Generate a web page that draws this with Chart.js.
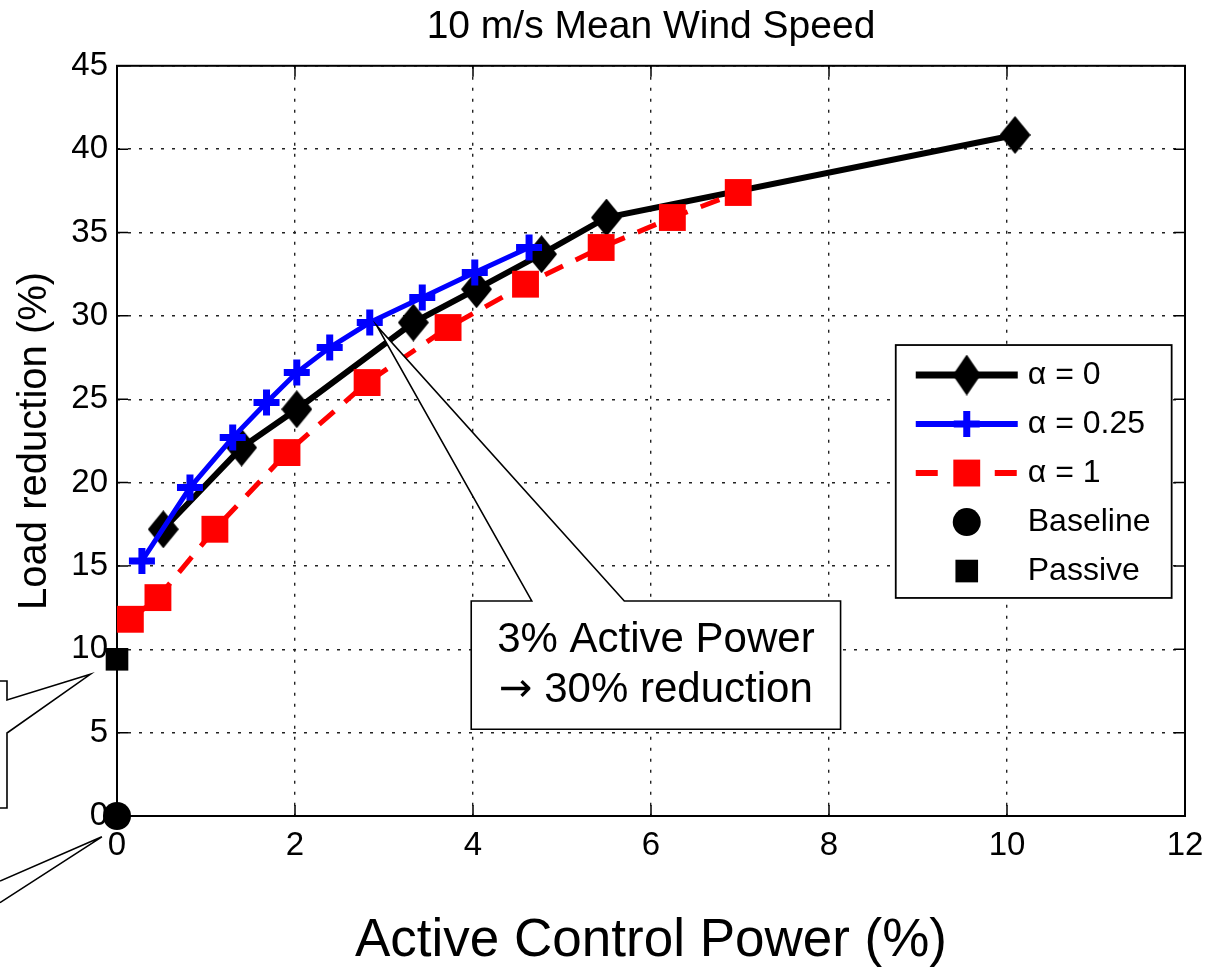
<!DOCTYPE html>
<html>
<head>
<meta charset="utf-8">
<title>10 m/s Mean Wind Speed</title>
<script src="https://cdn.jsdelivr.net/npm/chart.js@4/dist/chart.umd.min.js"></script>
<style>
    html, body { margin: 0; padding: 0; background: #fff; }
    canvas { display: block; }
</style>
</head>
<body>
<canvas id="wind-chart" width="1207" height="972"></canvas>
<script>
const FONT = '"Liberation Sans", Arial, Helvetica, sans-serif';

// Active control power (%) -> load reduction (%)
const alpha0Power = [0.52, 1.40, 2.02, 3.33, 4.04, 4.77, 5.50, 10.09];
const alpha0Reduction = [17.2, 22.1, 24.4, 29.6, 31.6, 33.7, 35.9, 40.85];

const alpha025Power = [0.28, 0.82, 1.30, 1.68, 2.02, 2.39, 2.84, 3.43, 4.02, 4.63];
const alpha025Reduction = [15.3, 19.7, 22.7, 24.8, 26.6, 28.1, 29.6, 31.1, 32.6, 34.1];

const alpha1Power = [0.15, 0.46, 1.10, 1.91, 2.81, 3.72, 4.59, 5.44, 6.24, 6.98];
const alpha1Reduction = [11.8, 13.1, 17.2, 21.8, 26.0, 29.3, 31.9, 34.1, 35.9, 37.4];

const baselinePower = [0];
const baselineReduction = [0];
const passivePower = [0];
const passiveReduction = [9.4];

const seriesLabels = ['α = 0', 'α = 0.25', 'α = 1', 'Baseline', 'Passive'];
const xTickValues = [0, 2, 4, 6, 8, 10, 12];
const yTickValues = [0, 5, 10, 15, 20, 25, 30, 35, 40, 45];
const calloutLines = ['3% Active Power', '→', ' 30% reduction'];

function toPoints(xs, ys) {
    return xs.map((x, i) => ({ x: x, y: ys[i] }));
}

// matlab style diamond is a bit taller than wide
function makeDiamond(w, h) {
    const c = document.createElement('canvas');
    c.width = w;
    c.height = h;
    const g = c.getContext('2d');
    g.fillStyle = '#000';
    g.beginPath();
    g.moveTo(w / 2, 0);
    g.lineTo(w, h / 2);
    g.lineTo(w / 2, h);
    g.lineTo(0, h / 2);
    g.closePath();
    g.fill();
    return c;
}
const plotDiamond = makeDiamond(31, 38);
const legendDiamond = makeDiamond(28, 41);

// box, inward ticks (drawn under the data)
const framePlugin = {
    id: 'frame',
    beforeDatasetsDraw(chart) {
        const { ctx, chartArea: a, scales: { x, y } } = chart;
        ctx.save();
        ctx.strokeStyle = '#000';
        ctx.lineWidth = 1.5;
        ctx.beginPath();
        xTickValues.forEach(v => {
            const p = x.getPixelForValue(v);
            ctx.moveTo(p, a.bottom); ctx.lineTo(p, a.bottom - 11);
            ctx.moveTo(p, a.top); ctx.lineTo(p, a.top + 11);
        });
        yTickValues.forEach(v => {
            const p = y.getPixelForValue(v);
            ctx.moveTo(a.left, p); ctx.lineTo(a.left + 11, p);
            ctx.moveTo(a.right, p); ctx.lineTo(a.right - 11, p);
        });
        ctx.stroke();
        ctx.lineWidth = 2;
        ctx.strokeRect(a.left, a.top, a.right - a.left, a.bottom - a.top);
        ctx.restore();
    }
};

// callouts and the boxed legend (drawn on top)
const overlayPlugin = {
    id: 'overlay',
    afterDraw(chart) {
        const { ctx, scales: { x, y } } = chart;
        const px = v => x.getPixelForValue(v);
        const py = v => y.getPixelForValue(v);
        ctx.save();
        ctx.strokeStyle = '#000';
        ctx.lineWidth = 1.6;

        // main callout
        const bx0 = px(3.98), bx1 = px(8.13), by0 = py(12.9), by1 = py(5.2);
        ctx.beginPath();
        ctx.moveTo(bx0, by0);
        ctx.lineTo(px(4.66), by0);
        ctx.lineTo(px(2.92), py(29.4));
        ctx.lineTo(px(5.70), by0);
        ctx.lineTo(bx1, by0);
        ctx.lineTo(bx1, by1);
        ctx.lineTo(bx0, by1);
        ctx.closePath();
        ctx.fillStyle = '#fff';
        ctx.fill();
        ctx.stroke();
        ctx.fillStyle = '#000';
        ctx.textBaseline = 'alphabetic';
        const cx = (bx0 + bx1) / 2;
        const textFont = '42px ' + FONT;
        const arrowFont = '40px "DejaVu Sans", sans-serif';
        ctx.font = textFont;
        ctx.textAlign = 'center';
        ctx.fillText(calloutLines[0], cx, by0 + 51);
        // second line: arrow glyph + text, centred together
        ctx.textAlign = 'left';
        ctx.font = arrowFont;
        const aw = ctx.measureText(calloutLines[1]).width;
        ctx.font = textFont;
        const tw = ctx.measureText(calloutLines[2]).width;
        const sx = cx - (aw + tw) / 2;
        ctx.font = arrowFont;
        ctx.fillText(calloutLines[1], sx, by0 + 100);
        ctx.font = textFont;
        ctx.fillText(calloutLines[2], sx + aw, by0 + 101);

        // clipped callouts on the left edge
        const ex = px(-1.236);
        ctx.beginPath();
        ctx.moveTo(-5, py(8.1));
        ctx.lineTo(ex, py(8.1));
        ctx.lineTo(ex, py(6.96));
        ctx.lineTo(px(-0.30), py(8.5));
        ctx.lineTo(ex, py(4.98));
        ctx.lineTo(ex, py(0.48));
        ctx.lineTo(-5, py(0.48));
        ctx.stroke();
        ctx.beginPath();
        ctx.moveTo(0, py(-3.9));
        ctx.lineTo(px(-0.17), py(-1.25));
        ctx.lineTo(0, py(-5.2));
        ctx.stroke();

        // legend
        const lx0 = px(8.75), lx1 = px(11.85), ly0 = py(28.25), ly1 = py(13.08);
        ctx.fillStyle = '#fff';
        ctx.fillRect(lx0, ly0, lx1 - lx0, ly1 - ly0);
        ctx.lineWidth = 1.8;
        ctx.strokeRect(lx0, ly0, lx1 - lx0, ly1 - ly0);
        ctx.font = '32px ' + FONT;
        ctx.textBaseline = 'middle';
        chart.data.datasets.forEach((ds, i) => {
            const ry = ly0 + 30 + i * 49;
            const mx = lx0 + 71;
            if (ds.showLine) {
                ctx.save();
                ctx.strokeStyle = ds.borderColor;
                ctx.lineWidth = ds.borderWidth + 1;
                ctx.setLineDash(ds.borderDash ? [22, 57] : []);
                ctx.beginPath();
                ctx.moveTo(lx0 + 20, ry);
                ctx.lineTo(lx0 + 122, ry);
                ctx.stroke();
                ctx.restore();
            }
            ctx.save();
            ctx.fillStyle = ds.pointBackgroundColor;
            ctx.strokeStyle = ds.pointBorderColor;
            ctx.lineWidth = ds.pointBorderWidth;
            Chart.helpers.drawPoint(ctx, {
                pointStyle: ds.legendStyle || ds.pointStyle,
                radius: ds.pointRadius,
                borderWidth: ds.pointBorderWidth,
                rotation: 0
            }, mx, ry);
            ctx.restore();
            ctx.fillStyle = '#000';
            ctx.fillText(ds.label, lx0 + 132, ry);
        });
        ctx.restore();
    }
};

function renderChart() {
    const ctx = document.getElementById('wind-chart').getContext('2d');
    new Chart(ctx, {
        type: 'scatter',
        data: {
            datasets: [{
                label: seriesLabels[0],
                data: toPoints(alpha0Power, alpha0Reduction),
                showLine: true,
                borderColor: '#000',
                borderWidth: 6,
                pointStyle: plotDiamond,
                legendStyle: legendDiamond,
                pointRadius: 16,
                pointBackgroundColor: '#000',
                pointBorderColor: '#000',
                pointBorderWidth: 1,
                order: 3,
                clip: false
            }, {
                label: seriesLabels[1],
                data: toPoints(alpha025Power, alpha025Reduction),
                showLine: true,
                borderColor: '#0000ff',
                borderWidth: 5,
                pointStyle: 'cross',
                pointRadius: 13,
                pointBackgroundColor: '#0000ff',
                pointBorderColor: '#0000ff',
                pointBorderWidth: 7,
                order: 2,
                clip: false
            }, {
                label: seriesLabels[2],
                data: toPoints(alpha1Power, alpha1Reduction),
                showLine: true,
                borderColor: '#ff0000',
                borderWidth: 5,
                borderDash: [20, 14],
                pointStyle: 'rect',
                pointRadius: 19,
                pointBackgroundColor: '#ff0000',
                pointBorderColor: '#ff0000',
                pointBorderWidth: 0,
                order: 1,
                clip: false
            }, {
                label: seriesLabels[3],
                data: toPoints(baselinePower, baselineReduction),
                showLine: false,
                pointStyle: 'circle',
                pointRadius: 14,
                pointBackgroundColor: '#000',
                pointBorderColor: '#000',
                pointBorderWidth: 0,
                order: 0,
                clip: false
            }, {
                label: seriesLabels[4],
                data: toPoints(passivePower, passiveReduction),
                showLine: false,
                pointStyle: 'rect',
                pointRadius: 16,
                pointBackgroundColor: '#000',
                pointBorderColor: '#000',
                pointBorderWidth: 0,
                order: 0,
                clip: false
            }]
        },
        options: {
            responsive: false,
            animation: false,
            devicePixelRatio: 1,
            events: [],
            layout: { padding: { left: 0, right: 22, top: 0, bottom: 0 } },
            plugins: {
                legend: { display: false },
                tooltip: { enabled: false },
                title: {
                    display: true,
                    fullSize: false,
                    text: '10 m/s Mean Wind Speed',
                    color: '#000',
                    font: { family: FONT, size: 39, weight: 'normal', lineHeight: 1.2 },
                    padding: { top: 4, bottom: 15 }
                }
            },
            scales: {
                x: {
                    type: 'linear',
                    position: 'bottom',
                    min: 0,
                    max: 12,
                    afterFit: s => { s.height = 156; s.paddingLeft = 0; s.paddingRight = 0; },
                    afterBuildTicks: s => { s.ticks = xTickValues.map(v => ({ value: v })); },
                    ticks: { color: '#000', padding: 10, font: { family: FONT, size: 33 } },
                    grid: { color: '#222', lineWidth: 1.4, drawTicks: false },
                    border: { display: false, dash: [3, 8] },
                    title: {
                        display: true,
                        text: 'Active Control Power (%)',
                        color: '#000',
                        font: { family: FONT, size: 53, lineHeight: 1 },
                        padding: { top: 0, bottom: 4 }
                    }
                },
                y: {
                    type: 'linear',
                    min: 0,
                    max: 45,
                    afterFit: s => { s.width = 117; s.paddingTop = 0; s.paddingBottom = 0; },
                    afterBuildTicks: s => { s.ticks = yTickValues.map(v => ({ value: v })); },
                    ticks: { color: '#000', padding: 9, font: { family: FONT, size: 33 } },
                    grid: { color: '#222', lineWidth: 1.4, drawTicks: false },
                    border: { display: false, dash: [3, 8] },
                    title: {
                        display: true,
                        text: 'Load reduction (%)',
                        color: '#000',
                        font: { family: FONT, size: 40, lineHeight: 1.2 },
                        padding: { top: 11, bottom: 0 }
                    }
                }
            }
        },
        plugins: [framePlugin, overlayPlugin]
    });
}

renderChart();
</script>
</body>
</html>
